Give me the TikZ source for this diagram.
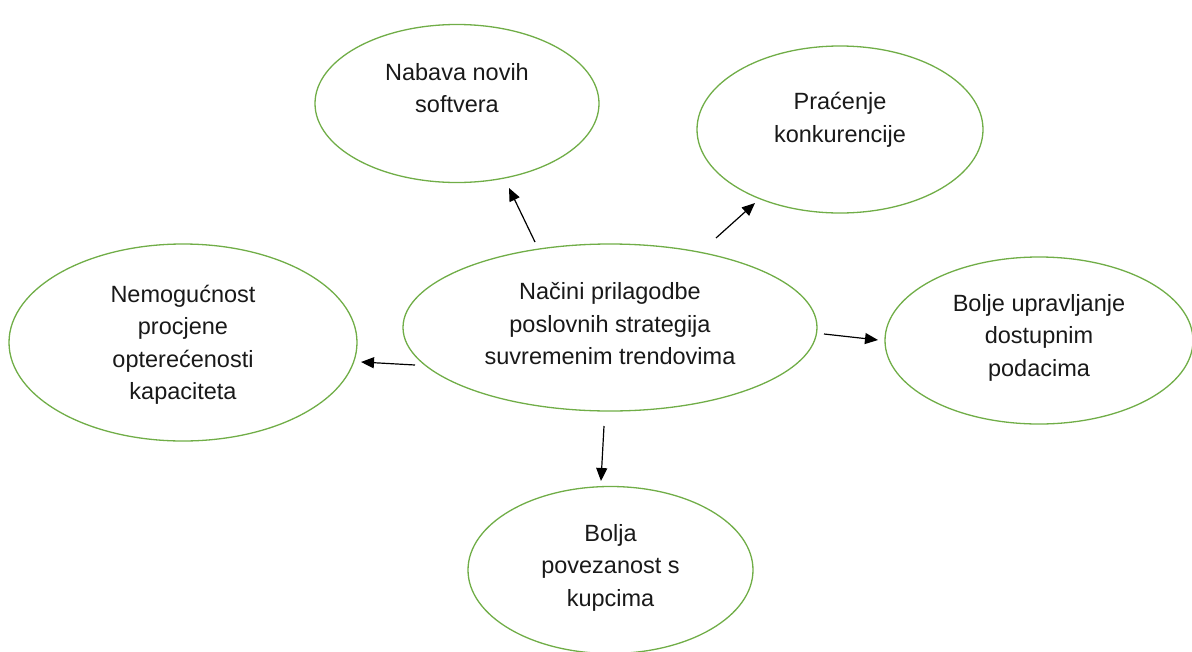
\documentclass[tikz,border=0pt]{standalone}
\usepackage{fontspec}
\setmainfont{Liberation Sans}
\usetikzlibrary{shapes.geometric,arrows.meta}
\definecolor{eg}{RGB}{112,173,71}
\definecolor{tx}{RGB}{25,25,25}
\begin{document}
\begin{tikzpicture}[x=1pt,y=-1pt,
 bub/.style={draw=eg,line width=1.3pt,ellipse,inner sep=0pt},
 lbl/.style={text=tx,align=center,font=\fontsize{23.5}{32.5}\selectfont,inner sep=0pt},
 arr/.style={-{Triangle[length=13pt,width=11pt]},line width=1.2pt,black}]
\useasboundingbox (0,0) rectangle (1192,651);
% ellipses
\node[bub,minimum width=284pt,minimum height=158pt] (nab) at (457,103.5) {};
\node[bub,minimum width=286pt,minimum height=167pt] (pra) at (840,129.5) {};
\node[bub,minimum width=348pt,minimum height=197pt] (nem) at (183,342.5) {};
\node[bub,minimum width=414pt,minimum height=167pt] (nac) at (610,327.5) {};
\node[bub,minimum width=308pt,minimum height=167pt] (bup) at (1039,340.5) {};
\node[bub,minimum width=285pt,minimum height=167pt] (bpk) at (610.5,570) {};
% labels
\node[lbl] (nabt) at (457,88) {Nabava novih\\softvera};
\node[lbl] (prat) at (840,120) {Praćenje\\konkurencije};
\node[lbl] (nemt) at (183,345) {Nemogućnost\\procjene\\opterećenosti\\kapaciteta};
\node[lbl] (nact) at (610,324) {Načini prilagodbe\\poslovnih strategija\\suvremenim trendovima};
\node[lbl] (bupt) at (1039,337.5) {Bolje upravljanje\\dostupnim\\podacima};
\node[lbl] (bpkt) at (610.5,567.5) {Bolja\\povezanost s\\kupcima};
% arrow end points
\coordinate (a1s) at (535,242); \coordinate (a1e) at (509,188);
\coordinate (a2s) at (716,238); \coordinate (a2e) at (755,203);
\coordinate (a3s) at (415,365); \coordinate (a3e) at (361,362);
\coordinate (a4s) at (824,334); \coordinate (a4e) at (878,340);
\coordinate (a5s) at (604,426); \coordinate (a5e) at (601,481);
\draw[arr] (a1s) -- (a1e);
\draw[arr] (a2s) -- (a2e);
\draw[arr] (a3s) -- (a3e);
\draw[arr] (a4s) -- (a4e);
\draw[arr] (a5s) -- (a5e);
\end{tikzpicture}
\end{document}
